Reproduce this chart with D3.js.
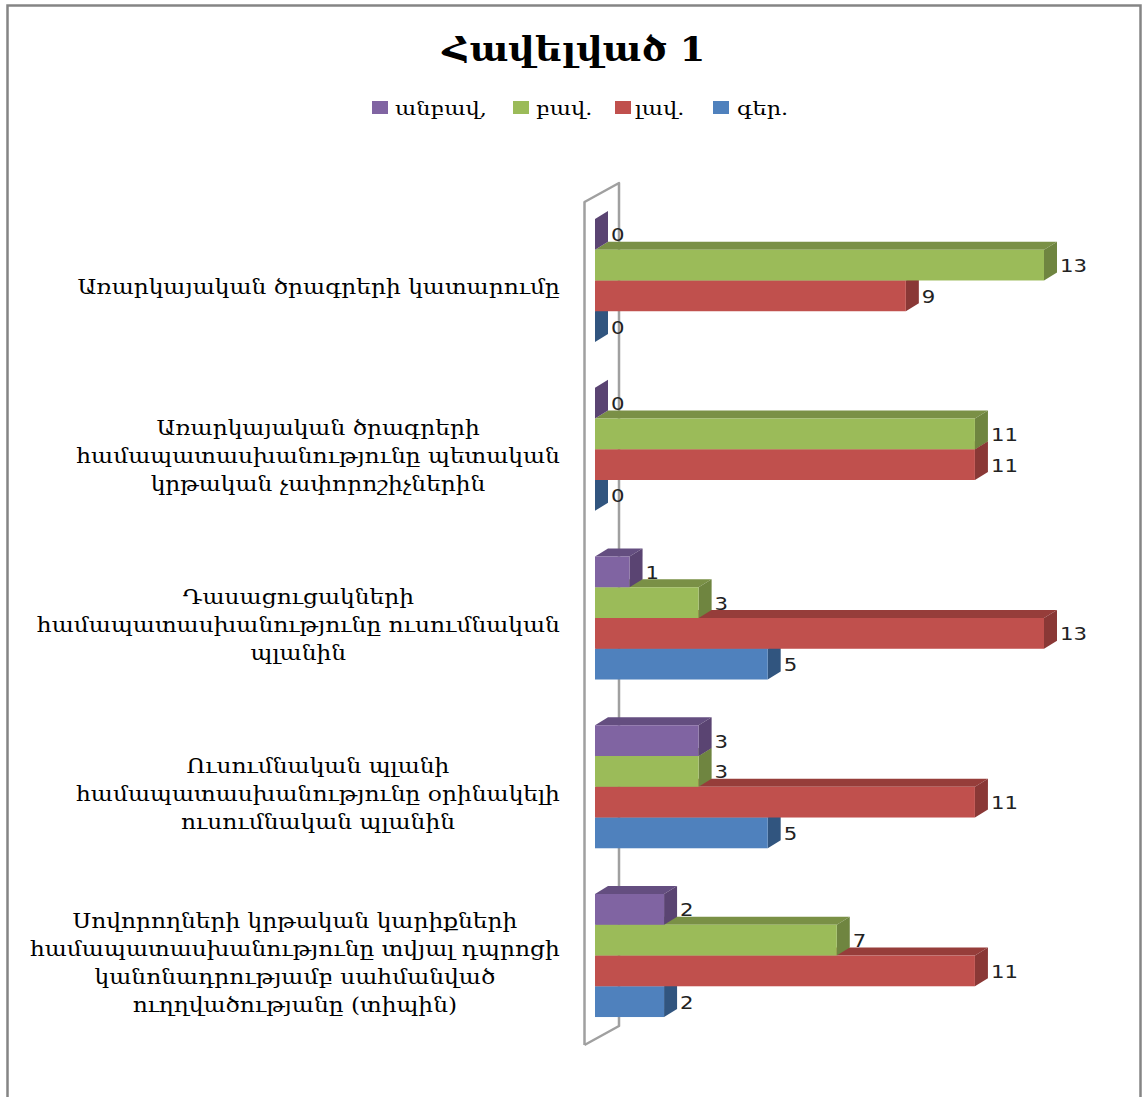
<!DOCTYPE html>
<html>
<head>
<meta charset="utf-8">
<script src="https://cdn.jsdelivr.net/npm/d3@7"></script>
<style>
  html, body { margin: 0; padding: 0; background: #fff; overflow: hidden; }
  text { font-family: "DejaVu Serif", serif; fill: #000; }
  .val { font-family: "DejaVu Sans", sans-serif; font-size: 18px; fill: #222; }
</style>
</head>
<body>
<div id="chart"></div>
<script>
const width = 1144, height = 1097;

//categories, one row per line of the wrapped label
const categories = [
  ["Առարկայական ծրագրերի կատարումը"],
  ["Առարկայական ծրագրերի", "համապատասխանությունը պետական", "կրթական չափորոշիչներին"],
  ["Դասացուցակների", "համապատասխանությունը ուսումնական", "պլանին"],
  ["Ուսումնական պլանի", "համապատասխանությունը օրինակելի", "ուսումնական պլանին"],
  ["Սովորողների կրթական կարիքների", "համապատասխանությունը տվյալ դպրոցի", "կանոնադրությամբ սահմանված", "ուղղվածությանը (տիպին)"]
];

//series values, top of the group to the bottom
const seriesNames = ["անբավ,", "բավ.", "լավ.", "գեր."];
const anbav = [0, 0, 1, 3, 2];
const bav = [13, 11, 3, 3, 7];
const lav = [9, 11, 13, 11, 11];
const ger = [0, 0, 5, 5, 2];
const allValues = [anbav, bav, lav, ger];

//front, side and top colours of each series
const front = ["#8064a2", "#9bbb59", "#c0504d", "#4f81bd"];
const side = ["#5a4472", "#6f8540", "#8a3836", "#31557f"];
const topFace = ["#644e80", "#7a9046", "#963d3a", "#3a6596"];

const depthX = 13, depthY = -8;

const svg = d3.select("#chart").append("svg")
  .attr("width", width)
  .attr("height", height)
  .style("display", "block");

//outer frame, runs off the bottom of the picture
svg.append("path")
  .attr("d", "M7.5,1097V5.5H1140.5V1097")
  .attr("fill", "none")
  .attr("stroke", "#858585")
  .attr("stroke-width", 2.5);

//the original picture is stretched sideways, so text gets a horizontal scale
function stretched(sel, px, py, sx) {
  return sel.attr("transform", `translate(${px}, ${py}) scale(${sx}, 1)`);
}

//title
svg.append("text")
  .call(stretched, 574, 61, 1.08)
  .attr("text-anchor", "middle")
  .style("font-size", "34px")
  .style("font-weight", "bold")
  .text("Հավելված 1");

//scales
const x = d3.scaleLinear().domain([0, 13]).range([595, 1044]);
const yGroup = d3.scaleBand()
  .domain(d3.range(categories.length))
  .range([196.1, 1039.9])
  .paddingInner(0.271)
  .paddingOuter(0.1355);
const yBar = d3.scaleBand()
  .domain(d3.range(seriesNames.length))
  .range([0, yGroup.bandwidth()]);

//legend
const legendX = [372, 513, 615, 713];
const legendTextX = [395, 536, 635, 737];
const legend = svg.append("g");
seriesNames.forEach((name, i) => {
  legend.append("rect")
    .attr("x", legendX[i])
    .attr("y", 101)
    .attr("width", 16)
    .attr("height", 13)
    .attr("fill", front[i]);
  legend.append("text")
    .call(stretched, legendTextX[i], 115, 1.18)
    .style("font-size", "19px")
    .text(name);
});

//back wall of the 3d plot
svg.append("path")
  .attr("d", "M584.5,1045V202L619,183V1026L584.5,1045")
  .attr("fill", "#fff")
  .attr("stroke", "#a0a0a0")
  .attr("stroke-width", 2.5)
  .attr("stroke-linejoin", "round");

//category labels, block right edge at 560 and lines centred in the block
const labelStretch = 1.11;
categories.forEach((lines, c) => {
  const mid = yGroup(c) + yGroup.bandwidth() / 2;
  const label = svg.append("text")
    .attr("text-anchor", "middle")
    .style("font-size", "21px");
  lines.forEach((line, i) => {
    label.append("tspan")
      .attr("x", 0)
      .attr("y", (i - (lines.length - 1) / 2) * 28 + 14)
      .text(line);
  });
  const w = label.node().getBBox().width * labelStretch;
  label.call(stretched, 560 - w / 2, mid, labelStretch);
});

//bars, painted from the bottom of each group up so the upper faces overlap correctly
categories.forEach((lines, c) => {
  d3.range(seriesNames.length).reverse().forEach((s) => {
    const v = allValues[s][c];
    const y0 = yGroup(c) + yBar(s);
    const y1 = y0 + yBar.bandwidth();
    const xa = x(0), xb = x(v);
    svg.append("polygon")
      .attr("points", [[xa, y0], [xa + depthX, y0 + depthY], [xb + depthX, y0 + depthY], [xb, y0]].join(" "))
      .attr("fill", topFace[s]);
    svg.append("polygon")
      .attr("points", [[xb, y0], [xb + depthX, y0 + depthY], [xb + depthX, y1 + depthY], [xb, y1]].join(" "))
      .attr("fill", side[s]);
    if (v > 0) {
      svg.append("rect")
        .attr("x", xa)
        .attr("y", y0)
        .attr("width", xb - xa)
        .attr("height", y1 - y0)
        .attr("fill", front[s]);
    }
  });
});

//value labels go on last
categories.forEach((lines, c) => {
  d3.range(seriesNames.length).forEach((s) => {
    const v = allValues[s][c];
    svg.append("text")
      .attr("class", "val")
      .call(stretched, x(v) + depthX + 3, yGroup(c) + yBar(s) + yBar.bandwidth() / 2 + 7, 1.18)
      .text(v);
  });
});
</script>
</body>
</html>
